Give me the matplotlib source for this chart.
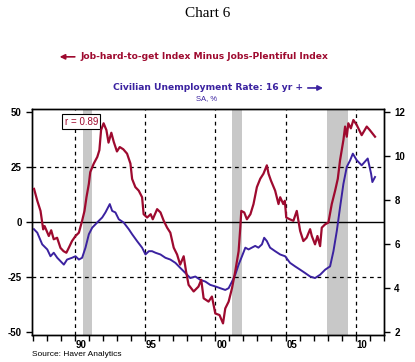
import numpy as np
import matplotlib
matplotlib.use("Agg")
import matplotlib.pyplot as plt

plt.rcParams["axes.unicode_minus"] = False
plt.rcParams["font.family"] = "Liberation Sans"

# Job-hard-to-get minus jobs-plentiful index (left axis)
idx_years = [1987.1, 1987.33, 1987.56, 1987.75, 1987.85, 1988.15, 1988.32, 1988.5, 1988.74, 1988.98,
             1989.2, 1989.4, 1989.57, 1989.8, 1990.05, 1990.29, 1990.52, 1990.69, 1990.83, 1991.0,
             1991.1, 1991.35, 1991.6, 1991.75, 1991.87, 1992.05, 1992.25, 1992.4, 1992.6, 1992.77,
             1993.0, 1993.2, 1993.45, 1993.72, 1993.96, 1994.08, 1994.31, 1994.55, 1994.79, 1994.9,
             1995.15, 1995.4, 1995.55, 1995.86, 1996.1, 1996.33, 1996.57, 1996.8, 1997.04, 1997.28,
             1997.5, 1997.75, 1997.92, 1998.1, 1998.46, 1998.8, 1999.0, 1999.17, 1999.52, 1999.76,
             2000.0, 2000.3, 2000.55, 2000.71, 2000.95, 2001.19, 2001.42, 2001.66, 2001.78, 2001.85,
             2002.06, 2002.25, 2002.5, 2002.72, 2002.96, 2003.2, 2003.43, 2003.67, 2003.79, 2003.96,
             2004.26, 2004.5, 2004.62, 2004.84, 2004.95, 2005.05, 2005.3, 2005.56, 2005.8, 2006.04,
             2006.27, 2006.5, 2006.75, 2006.87, 2007.1, 2007.27, 2007.46, 2007.58, 2007.82, 2008.05,
             2008.29, 2008.53, 2008.72, 2008.88, 2009.12, 2009.24, 2009.36, 2009.47, 2009.65, 2009.83,
             2010.07, 2010.42, 2010.78, 2011.0, 2011.37]
idx_values = [15.0, 9.6, 5.0, -3.4, -1.9, -6.4, -3.8, -7.9, -7.2, -11.8,
              -13.3, -14.0, -11.8, -8.7, -6.4, -4.9, 0.5, 5.0, 11.2, 17.3,
              22.6, 26.5, 29.5, 32.6, 41.7, 44.8, 41.7, 36.0, 40.5, 36.4,
              32.0, 34.0, 33.0, 31.0, 26.5, 19.5, 15.8, 14.2, 11.2, 3.5,
              2.0, 3.5, 1.2, 5.8, 4.3, 0.5, -2.6, -4.9, -11.7, -14.8,
              -19.4, -15.6, -22.5, -28.6, -31.6, -29.4, -26.3, -34.7, -36.2, -33.9,
              -41.6, -42.3, -46.1, -39.3, -36.2, -30.1, -22.5, -13.3, -2.6, 5.0,
              4.3, 1.2, 3.5, 8.1, 15.8, 19.6, 21.9, 25.7, 21.9, 18.8,
              14.2, 8.1, 11.2, 8.1, 9.6, 2.0, 1.2, 0.5, 5.0, -4.1,
              -8.7, -7.2, -3.3, -6.4, -10.2, -6.4, -11.0, -2.6, -1.1, -0.3,
              8.1, 14.2, 19.6, 28.0, 37.2, 43.3, 38.7, 44.8, 42.5, 46.3,
              44.0, 39.4, 43.3, 41.7, 38.7]

# Civilian unemployment rate, 16 yr +, SA, % (right axis)
ur_years = [1987.09, 1987.33, 1987.68, 1988.04, 1988.27, 1988.5, 1988.75, 1989.22, 1989.45, 1989.8,
            1990.05, 1990.29, 1990.52, 1990.76, 1991.0, 1991.24, 1991.47, 1991.71, 1991.95, 1992.18,
            1992.49, 1992.66, 1992.89, 1993.13, 1993.48, 1993.84, 1994.08, 1994.43, 1994.79, 1995.03,
            1995.27, 1995.5, 1995.74, 1996.1, 1996.45, 1996.8, 1997.16, 1997.51, 1997.87, 1998.22,
            1998.58, 1998.93, 1999.29, 1999.64, 2000.0, 2000.35, 2000.71, 2000.95, 2001.19, 2001.42,
            2001.66, 2001.9, 2002.14, 2002.37, 2002.6, 2002.84, 2003.07, 2003.32, 2003.48, 2003.67,
            2003.9, 2004.26, 2004.62, 2004.97, 2005.32, 2005.68, 2006.04, 2006.39, 2006.75, 2007.1,
            2007.46, 2007.82, 2008.17, 2008.41, 2008.65, 2008.88, 2009.12, 2009.36, 2009.6, 2009.79,
            2010.07, 2010.42, 2010.85, 2011.09, 2011.18, 2011.37]
ur_values = [6.67, 6.51, 5.98, 5.75, 5.44, 5.6, 5.37, 5.06, 5.29, 5.37,
             5.44, 5.29, 5.37, 5.83, 6.44, 6.74, 6.89, 7.05, 7.2, 7.43,
             7.81, 7.5, 7.43, 7.12, 6.97, 6.67, 6.44, 6.13, 5.83, 5.52,
             5.67, 5.67, 5.6, 5.52, 5.37, 5.29, 5.14, 4.91, 4.68, 4.45,
             4.52, 4.37, 4.29, 4.14, 4.07, 3.99, 3.91, 3.99, 4.29, 4.6,
             5.06, 5.44, 5.83, 5.75, 5.83, 5.91, 5.83, 5.98, 6.28, 6.13,
             5.83, 5.67, 5.52, 5.44, 5.14, 4.98, 4.83, 4.68, 4.52, 4.45,
             4.6, 4.83, 4.98, 5.67, 6.59, 7.66, 8.73, 9.5, 9.8, 10.1,
             9.8, 9.57, 9.88, 9.19, 8.81, 9.04]

recessions = [(1990.55, 1991.25), (2001.2, 2001.88), (2007.95, 2009.45)]
year_labels = ["90", "95", "00", "05", "10"]
label_years = [1990, 1995, 2000, 2005, 2010]

red = "#9E0A2F"
blue = "#3B22A0"

fig = plt.figure(figsize=(4.15, 3.62), dpi=100)
ax = fig.add_axes([0.077, 0.075, 0.848, 0.624])
ax2 = ax.twinx()
ax.set_zorder(ax2.get_zorder() + 1)
ax.patch.set_visible(False)

# shading and grid on the lower (right-axis) layer so both lines sit above them
for a, b in recessions:
    ax2.axvspan(a, b, color="#C8C8C8", lw=0, zorder=0)
for y in label_years:
    ax2.axvline(y, color="black", ls=(0, (3, 3)), lw=0.9, zorder=1)
for h in [9.5, 4.5]:
    ax2.axhline(h, color="black", ls=(0, (3, 3)), lw=0.9, zorder=1)
ax2.axhline(7, color="black", lw=1.0, zorder=1)

ax2.plot(ur_years, ur_values, color=blue, lw=1.4, zorder=3)
ax.plot(idx_years, idx_values, color=red, lw=1.6, zorder=4)

ax.set_xlim(1986.95, 2012.0)
ax.set_ylim(-51.3, 51.3)
ax2.set_ylim(1.87, 12.13)

ax.set_yticks([-50, -25, 0, 25, 50])
ax2.set_yticks([2, 4, 6, 8, 10, 12])
ax.set_xticks(np.arange(1987, 2013, 1))
ax.set_xticklabels([])
ax.set_xticks([y + 0.45 for y in label_years], minor=True)
ax.set_xticklabels(year_labels, minor=True)
ax.tick_params(axis="x", which="major", direction="out", length=4, width=1)
ax.tick_params(axis="x", which="minor", length=0, pad=4, labelsize=7)
ax.tick_params(axis="y", direction="out", length=4, width=1, labelsize=7)
ax2.tick_params(axis="y", direction="out", length=4, width=1, labelsize=7)
for lab in ax.get_xticklabels(minor=True) + ax.get_yticklabels() + ax2.get_yticklabels():
    lab.set_fontweight("bold")
for a in (ax, ax2):
    for s in a.spines.values():
        s.set_linewidth(1.0)

ax.text(0.14, 0.965, "r = 0.89", transform=ax.transAxes, ha="center", va="top",
        fontsize=7, color=red,
        bbox=dict(boxstyle="square,pad=0.25", fc="white", ec="black", lw=0.8))

fig.text(0.5, 0.963, "Chart 6", ha="center", va="center", fontsize=11,
         family="Liberation Serif")
fig.text(0.193, 0.843, "Job-hard-to-get Index Minus Jobs-Plentiful Index", ha="left",
         va="center", fontsize=6.6, fontweight="bold", color=red, family="DejaVu Sans")
fig.add_artist(matplotlib.patches.FancyArrowPatch((0.187, 0.843), (0.137, 0.843),
               transform=fig.transFigure, arrowstyle="-|>,head_length=3,head_width=1.5",
               color=red, lw=1.2))
fig.text(0.73, 0.757, "Civilian Unemployment Rate: 16 yr +", ha="right",
         va="center", fontsize=6.6, fontweight="bold", color=blue, family="DejaVu Sans")
fig.add_artist(matplotlib.patches.FancyArrowPatch((0.735, 0.757), (0.785, 0.757),
               transform=fig.transFigure, arrowstyle="-|>,head_length=3,head_width=1.5",
               color=blue, lw=1.2))
fig.text(0.497, 0.727, "SA, %", ha="center", va="center", fontsize=5.5, color=blue)
fig.text(0.077, 0.012, "Source: Haver Analytics", ha="left", va="bottom", fontsize=6)

fig.savefig("out.png", dpi=100)
